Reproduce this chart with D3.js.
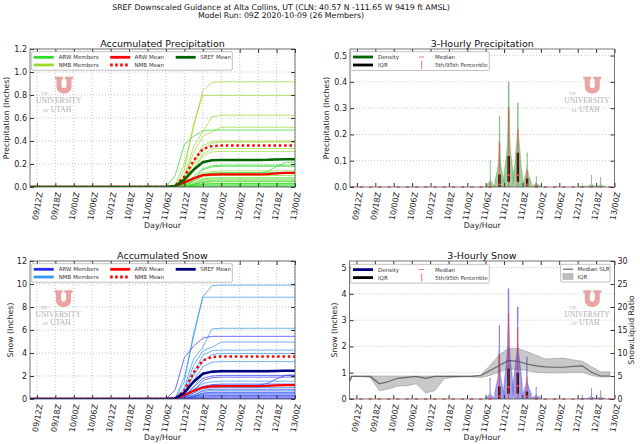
<!DOCTYPE html>
<html>
<head>
<meta charset="utf-8">
<script src="https://cdn.jsdelivr.net/npm/d3@7"></script>
<style>
body { margin: 0; background: #fff; }
svg { font-family: "DejaVu Sans", sans-serif; }
</style>
</head>
<body>
<div id="chart"></div>
<script>
// hours after 09/09Z 2020-10-09
var accHours = [0,3,6,9,12,15,18,21,24,27,30,33,36,39,42,45,48,51,54,57,60,63,66,69,72,75,78,81,84,87];
// centres of the 3-hour periods
var periodHours = [1.5,4.5,7.5,10.5,13.5,16.5,19.5,22.5,25.5,28.5,31.5,34.5,37.5,40.5,43.5,46.5,49.5,52.5,55.5,58.5,61.5,64.5,67.5,70.5,73.5,76.5,79.5,82.5,85.5];
var tickHours = [3,9,15,21,27,33,39,45,51,57,63,69,75,81,87];
var tickLabels = ["09/12Z","09/18Z","10/00Z","10/06Z","10/12Z","10/18Z","11/00Z","11/06Z","11/12Z","11/18Z","12/00Z","12/06Z","12/12Z","12/18Z","13/00Z"];

// accumulated precipitation (in), ARW members
var arwPrecip = [
  [0,0,0,0,0,0,0,0,0,0,0,0,0,0,0, 0,.10,.37,.44,.49,.495,.495,.495,.495,.495,.495,.495,.495,.495,.495],
  [0,0,0,0,0,0,0,0,0,0,0,0,0,0,0, 0,0,.03,.08,.11,.12,.12,.12,.12,.12,.12,.133,.178,.215,.215],
  [0,0,0,0,0,0,0,0,0,0,0,0,0,0,0, 0,0,.02,.09,.16,.185,.19,.19,.19,.19,.19,.19,.19,.19,.19],
  [0,0,0,0,0,0,0,0,0,0,0,0,0,0,0, 0,0,.01,.06,.15,.175,.18,.18,.18,.18,.18,.18,.18,.18,.18],
  [0,0,0,0,0,0,0,0,0,0,0,0,0,0,0, 0,0,.01,.05,.10,.12,.125,.125,.125,.125,.125,.125,.125,.125,.125],
  [0,0,0,0,0,0,0,0,0,0,0,0,0,0,0, 0,0,0,.03,.07,.08,.08,.08,.08,.08,.08,.08,.08,.08,.08],
  [0,0,0,0,0,0,0,0,0,0,0,0,0,0,0, 0,0,0,.02,.05,.06,.06,.06,.06,.06,.06,.06,.06,.06,.06],
  [0,0,0,0,0,0,0,0,0,0,0,0,0,0,0, 0,0,0,.02,.04,.045,.045,.045,.045,.045,.045,.045,.045,.045,.045],
  [0,0,0,0,0,0,0,0,0,0,0,0,0,0,0, 0,0,0,.01,.025,.03,.03,.03,.03,.03,.03,.03,.03,.03,.03],
  [0,0,0,0,0,0,0,0,0,0,0,0,0,0,0, 0,0,0,.01,.02,.02,.02,.02,.02,.02,.02,.02,.02,.02,.02],
  [0,0,0,0,0,0,0,0,0,0,0,0,0,0,0, 0,0,0,.005,.01,.01,.01,.01,.01,.01,.01,.01,.01,.01,.01],
  [0,0,0,0,0,0,0,0,0,0,0,0,0,0,0, 0,0,0,0,.005,.005,.005,.005,.005,.005,.005,.005,.005,.005,.005],
  [0,0,0,0,0,0,0,0,0,0,0,0,0,0,0, 0,0,0,0,0,0,0,0,0,0,0,0,0,0,0]
];
// accumulated precipitation (in), NMB members
var nmbPrecip = [
  [0,0,0,0,0,0,0,0,0,0,0,0,0,0,0, 0,.02,.20,.52,.84,.91,.915,.915,.915,.915,.915,.915,.915,.915,.915],
  [0,0,0,0,0,0,0,0,0,0,0,0,0,0,0, 0,.01,.15,.55,.795,.795,.795,.795,.795,.795,.795,.795,.795,.795,.795],
  [0,0,0,0,0,0,0,0,0,0,0,0,0,0,0, 0,0,.10,.35,.48,.61,.625,.625,.625,.625,.625,.625,.625,.625,.625],
  [0,0,0,0,0,0,0,0,0,0,0,0,0,0,0, 0,0,.08,.30,.44,.48,.52,.52,.52,.52,.52,.52,.52,.52,.52],
  [0,0,0,0,0,0,0,0,0,0,0,0,0,0,0, 0,0,.05,.22,.36,.395,.40,.40,.40,.40,.40,.40,.40,.40,.40],
  [0,0,0,0,0,0,0,0,0,0,0,0,0,0,0, 0,0,.06,.20,.33,.38,.39,.39,.39,.39,.39,.39,.39,.39,.39],
  [0,0,0,0,0,0,0,0,0,0,0,0,0,0,0, 0,0,.04,.16,.29,.33,.335,.335,.335,.335,.335,.335,.335,.335,.335],
  [0,0,0,0,0,0,0,0,0,0,0,0,0,0,0, 0,0,.03,.14,.27,.305,.31,.31,.31,.31,.31,.31,.31,.31,.31],
  [0,0,0,0,0,0,0,0,0,0,0,0,0,0,0, 0,0,.02,.07,.12,.135,.14,.14,.14,.14,.14,.14,.14,.14,.14],
  [0,0,0,0,0,0,0,0,0,0,0,0,0,0,0, 0,0,.01,.05,.09,.10,.10,.10,.10,.10,.10,.10,.10,.10,.10],
  [0,0,0,0,0,0,0,0,0,0,0,0,0,0,0, 0,0,.01,.03,.06,.07,.07,.07,.07,.07,.07,.07,.07,.07,.07],
  [0,0,0,0,0,0,0,0,0,0,0,0,0,0,0, 0,0,0,.02,.04,.05,.05,.05,.05,.05,.05,.05,.05,.05,.05],
  [0,0,0,0,0,0,0,0,0,0,0,0,0,0,0, 0,0,0,.01,.025,.03,.03,.03,.03,.03,.03,.03,.03,.03,.03]
];
var arwMeanPrecip  = [0,0,0,0,0,0,0,0,0,0,0,0,0,0,0, 0,.008,.04,.075,.103,.108,.11,.11,.11,.11,.11,.112,.118,.123,.123];
var nmbMeanPrecip  = [0,0,0,0,0,0,0,0,0,0,0,0,0,0,0, 0,.01,.09,.23,.33,.355,.36,.36,.36,.36,.36,.36,.36,.36,.36];
var srefMeanPrecip = [0,0,0,0,0,0,0,0,0,0,0,0,0,0,0, 0,.009,.065,.15,.215,.232,.235,.235,.235,.235,.235,.236,.239,.242,.242];

// accumulated snow (in), ARW members
var arwSnow = [
  [0,0,0,0,0,0,0,0,0,0,0,0,0,0,0, 0,.8,3.6,4.6,5.3,5.45,5.45,5.45,5.45,5.45,5.45,5.45,5.45,5.45,5.45],
  [0,0,0,0,0,0,0,0,0,0,0,0,0,0,0, 0,0,.3,.8,1.1,1.2,1.2,1.2,1.2,1.2,1.2,1.35,1.75,2.07,2.07],
  [0,0,0,0,0,0,0,0,0,0,0,0,0,0,0, 0,0,.2,1.0,1.8,2.0,2.05,2.05,2.05,2.05,2.05,2.05,2.05,2.05,2.05],
  [0,0,0,0,0,0,0,0,0,0,0,0,0,0,0, 0,0,.1,.7,1.6,1.85,1.9,1.9,1.9,1.9,1.9,1.9,1.9,1.9,1.9],
  [0,0,0,0,0,0,0,0,0,0,0,0,0,0,0, 0,0,.1,.5,1.05,1.25,1.3,1.3,1.3,1.3,1.3,1.3,1.3,1.3,1.3],
  [0,0,0,0,0,0,0,0,0,0,0,0,0,0,0, 0,0,0,.3,.75,.85,.85,.85,.85,.85,.85,.85,.85,.85,.85],
  [0,0,0,0,0,0,0,0,0,0,0,0,0,0,0, 0,0,0,.2,.5,.6,.6,.6,.6,.6,.6,.6,.6,.6,.6],
  [0,0,0,0,0,0,0,0,0,0,0,0,0,0,0, 0,0,0,.2,.4,.45,.45,.45,.45,.45,.45,.45,.45,.45,.45],
  [0,0,0,0,0,0,0,0,0,0,0,0,0,0,0, 0,0,0,.1,.25,.3,.3,.3,.3,.3,.3,.3,.3,.3,.3],
  [0,0,0,0,0,0,0,0,0,0,0,0,0,0,0, 0,0,0,.05,.15,.2,.2,.2,.2,.2,.2,.2,.2,.2,.2],
  [0,0,0,0,0,0,0,0,0,0,0,0,0,0,0, 0,0,0,.03,.08,.1,.1,.1,.1,.1,.1,.1,.1,.1,.1],
  [0,0,0,0,0,0,0,0,0,0,0,0,0,0,0, 0,0,0,0,.04,.05,.05,.05,.05,.05,.05,.05,.05,.05,.05],
  [0,0,0,0,0,0,0,0,0,0,0,0,0,0,0, 0,0,0,0,0,0,0,0,0,0,0,0,0,0,0]
];
// accumulated snow (in), NMB members
var nmbSnow = [
  [0,0,0,0,0,0,0,0,0,0,0,0,0,0,0, 0,.1,1.9,5.4,8.9,9.85,9.9,9.9,9.9,9.9,9.9,9.9,9.9,9.9,9.9],
  [0,0,0,0,0,0,0,0,0,0,0,0,0,0,0, 0,.05,1.5,5.7,8.85,8.85,8.85,8.85,8.85,8.85,8.85,8.85,8.85,8.85,8.85],
  [0,0,0,0,0,0,0,0,0,0,0,0,0,0,0, 0,0,1.0,3.5,4.5,6.1,6.15,6.15,6.15,6.15,6.15,6.15,6.15,6.15,6.15],
  [0,0,0,0,0,0,0,0,0,0,0,0,0,0,0, 0,0,.8,2.9,4.2,4.5,4.95,4.95,4.95,4.95,4.95,4.95,4.95,4.95,4.95],
  [0,0,0,0,0,0,0,0,0,0,0,0,0,0,0, 0,0,.5,2.3,3.8,4.2,4.25,4.25,4.25,4.25,4.25,4.25,4.25,4.25,4.25],
  [0,0,0,0,0,0,0,0,0,0,0,0,0,0,0, 0,0,.6,2.0,3.3,3.85,3.95,3.95,3.95,3.95,3.95,3.95,3.95,3.95,3.95],
  [0,0,0,0,0,0,0,0,0,0,0,0,0,0,0, 0,0,.4,1.6,2.8,3.2,3.25,3.25,3.25,3.25,3.25,3.25,3.25,3.25,3.25],
  [0,0,0,0,0,0,0,0,0,0,0,0,0,0,0, 0,0,.3,1.1,2.1,2.45,2.5,2.5,2.5,2.5,2.5,2.5,2.5,2.5,2.5],
  [0,0,0,0,0,0,0,0,0,0,0,0,0,0,0, 0,0,.2,.8,1.35,1.5,1.55,1.55,1.55,1.55,1.55,1.55,1.55,1.55,1.55],
  [0,0,0,0,0,0,0,0,0,0,0,0,0,0,0, 0,0,.1,.5,.9,1.0,1.0,1.0,1.0,1.0,1.0,1.0,1.0,1.0,1.0],
  [0,0,0,0,0,0,0,0,0,0,0,0,0,0,0, 0,0,.1,.35,.65,.75,.75,.75,.75,.75,.75,.75,.75,.75,.75],
  [0,0,0,0,0,0,0,0,0,0,0,0,0,0,0, 0,0,0,.25,.5,.55,.55,.55,.55,.55,.55,.55,.55,.55,.55],
  [0,0,0,0,0,0,0,0,0,0,0,0,0,0,0, 0,0,0,.15,.3,.35,.35,.35,.35,.35,.35,.35,.35,.35,.35]
];
var arwMeanSnow  = [0,0,0,0,0,0,0,0,0,0,0,0,0,0,0, 0,.06,.35,.7,1.0,1.1,1.12,1.12,1.12,1.12,1.12,1.14,1.18,1.2,1.2];
var nmbMeanSnow  = [0,0,0,0,0,0,0,0,0,0,0,0,0,0,0, 0,.01,.75,2.3,3.35,3.65,3.7,3.7,3.7,3.7,3.7,3.7,3.7,3.7,3.7];
var srefMeanSnow = [0,0,0,0,0,0,0,0,0,0,0,0,0,0,0, 0,.04,.55,1.5,2.2,2.38,2.41,2.41,2.41,2.41,2.41,2.42,2.44,2.45,2.45];

// snow:liquid ratio, median and interquartile range
var slrHours  = [0,1.5,4.5,7.5,10.5,13.5,16.5,19.5,22.5,25.5,28.5,31.5,34.5,37.5,40.5,43.5,46.5,49.5,52.5,55.5,58.5,61.5,64.5,67.5,70.5,73.5,76.5,79.5,82.5,85.5];
var slrMedian = [2.7,4.9,4.9,4.9,3.3,3.8,4.5,4.7,4.9,4.5,4.9,4.9,4.9,4.9,4.9,5.1,6.2,7.3,8.4,8.2,7.6,7.2,7.0,6.9,6.9,7.1,7.2,5.8,5.0,5.0];
var slrUpper  = [4.9,5.0,5.0,5.0,5.0,5.0,5.0,5.0,5.0,5.0,5.0,5.0,5.0,5.0,5.0,5.2,7.3,9.6,11.0,11.0,10.3,9.5,8.7,8.8,8.9,8.5,8.2,7.0,5.9,5.9];
var slrLower  = [2.7,4.9,4.9,4.7,1.8,2.2,2.8,2.9,3.3,1.3,1.8,4.4,4.7,4.8,4.8,4.7,5.1,5.9,6.5,6.4,6.2,5.8,5.7,5.7,5.7,5.8,5.8,5.1,4.8,4.8];

var svg = d3.select("#chart").append("svg")
    .attr("width", 640)
    .attr("height", 444);

var defs = svg.append("defs");
var dots = defs.append("pattern")
    .attr("id", "dots")
    .attr("width", 2)
    .attr("height", 2)
    .attr("patternUnits", "userSpaceOnUse");
dots.append("rect").attr("width", 2).attr("height", 2).attr("fill", "#c6c6c6");
dots.append("circle").attr("cx", 1).attr("cy", 1).attr("r", 0.45).attr("fill", "#8a8a8a");

svg.append("text")
    .attr("x", 281).attr("y", 9.8)
    .attr("text-anchor", "middle")
    .attr("font-size", 7.8)
    .attr("fill", "#111")
    .text("SREF Downscaled Guidance at Alta Collins, UT (CLN: 40.57 N -111.65 W 9419 ft AMSL)");
svg.append("text")
    .attr("x", 281).attr("y", 18)
    .attr("text-anchor", "middle")
    .attr("font-size", 7.8)
    .attr("fill", "#111")
    .text("Model Run: 09Z 2020-10-09 (26 Members)");

var clipCount = 0;

function panel(box, yDomain, yTicks, yFormat, vGrid, title, yLabel) {
    var x = d3.scaleLinear().domain([0.75, 87]).range([box.x0, box.x1]),
        y = d3.scaleLinear().domain(yDomain).range([box.y1, box.y0]);
    var g = svg.append("g");
    var id = "clip" + (clipCount++);
    defs.append("clipPath").attr("id", id).append("rect")
        .attr("x", box.x0).attr("y", box.y0)
        .attr("width", box.x1 - box.x0).attr("height", box.y1 - box.y0);

    var grid = g.append("g")
        .attr("stroke", "#a0a0a0")
        .attr("stroke-width", 0.6)
        .attr("stroke-dasharray", "1,2");
    if (vGrid) {
        grid.selectAll(null).data(tickHours).enter().append("line")
            .attr("x1", x).attr("x2", x)
            .attr("y1", box.y0).attr("y2", box.y1);
    }
    grid.selectAll(null).data(yTicks.slice(1)).enter().append("line")
        .attr("x1", box.x0).attr("x2", box.x1)
        .attr("y1", y).attr("y2", y);

    var plot = g.append("g").attr("clip-path", "url(#" + id + ")");
    var over = g.append("g");

    var ax = g.append("g").attr("color", "#333");
    var bottom = ax.append("g")
        .attr("transform", "translate(0," + box.y1 + ")")
        .call(d3.axisBottom(x).tickValues(tickHours).tickSize(-4).tickSizeOuter(0)
            .tickFormat(function (d, i) { return tickLabels[i]; }));
    bottom.selectAll("text")
        .attr("x", 0).attr("y", 0).attr("dy", "0.35em")
        .attr("text-anchor", "end")
        .attr("transform", "translate(2.5,5) rotate(-80)");
    ax.append("g")
        .attr("transform", "translate(0," + box.y0 + ")")
        .call(d3.axisTop(x).tickValues(tickHours).tickSize(-4).tickSizeOuter(0).tickFormat(""));
    ax.append("g")
        .attr("transform", "translate(" + box.x0 + ",0)")
        .call(d3.axisLeft(y).tickValues(yTicks).tickSize(-4).tickSizeOuter(0).tickPadding(3).tickFormat(yFormat));
    ax.selectAll(".domain").remove();
    ax.selectAll("text").attr("font-size", 8).attr("font-family", "DejaVu Sans").attr("fill", "#222");
    ax.attr("font-size", null).attr("font-family", null);

    ax.append("rect")
        .attr("x", box.x0).attr("y", box.y0)
        .attr("width", box.x1 - box.x0).attr("height", box.y1 - box.y0)
        .attr("fill", "none").attr("stroke", "#555").attr("stroke-width", 0.8);

    g.append("text")
        .attr("x", (box.x0 + box.x1) / 2).attr("y", box.y0 - 2.5)
        .attr("text-anchor", "middle")
        .attr("font-size", 9.5)
        .attr("fill", "#111")
        .text(title);
    g.append("text")
        .attr("x", (box.x0 + box.x1) / 2).attr("y", box.y1 + 40.5)
        .attr("text-anchor", "middle")
        .attr("font-size", 7.8)
        .attr("fill", "#222")
        .text("Day/Hour");
    g.append("text")
        .attr("transform", "translate(" + box.yLabelX + "," + (box.y0 + box.y1) / 2 + ") rotate(-90)")
        .attr("text-anchor", "middle")
        .attr("dy", "0.35em")
        .attr("font-size", 7.8)
        .attr("fill", "#222")
        .text(yLabel);

    return {x: x, y: y, g: g, plot: plot, over: over, ax: ax, box: box};
}

function rightTicks(p) {
    p.ax.append("g")
        .attr("transform", "translate(" + p.box.x1 + ",0)")
        .call(d3.axisRight(p.y).tickValues(p.y.ticks(6)).tickSize(-4).tickSizeOuter(0).tickFormat(""))
        .select(".domain").remove();
}

function drawLines(p, series, color, width, opacity, dash) {
    var line = d3.line()
        .x(function (d, i) { return p.x(accHours[i]); })
        .y(function (d) { return p.y(d); });
    p.plot.selectAll(null).data(series).enter().append("path")
        .attr("d", line)
        .attr("fill", "none")
        .attr("stroke", color)
        .attr("stroke-width", width)
        .attr("stroke-opacity", opacity)
        .attr("stroke-dasharray", dash || null);
}

// per-period increments of every member, with their quantiles
function periodStats(members) {
    return periodHours.map(function (h, k) {
        var v = members.map(function (m) {
            return Math.max(0, Math.round((m[k + 1] - m[k]) * 1e6) / 1e6);
        }).sort(d3.ascending);
        return {
            h: h, v: v,
            q05: d3.quantile(v, 0.05), q25: d3.quantile(v, 0.25),
            q50: d3.quantile(v, 0.5), q75: d3.quantile(v, 0.75),
            q95: d3.quantile(v, 0.95)
        };
    });
}

// gaussian kernel density, Scott bandwidth, between min and max
function kde(v) {
    var n = v.length, sd = d3.deviation(v);
    if (!sd) return null;
    var bw = sd * Math.pow(n, -0.2),
        lo = v[0], hi = v[n - 1];
    return d3.range(101).map(function (i) {
        var p = lo + (hi - lo) * i / 100;
        return {y: p, d: d3.sum(v, function (x) { return Math.exp(-0.5 * Math.pow((p - x) / bw, 2)); })};
    });
}

function drawViolins(p, stats, color) {
    var hw = (p.x(3) - p.x(0)) / 2;
    stats.forEach(function (s) {
        var cx = p.x(s.h);
        var shape = kde(s.v);
        if (shape) {
            var maxD = d3.max(shape, function (d) { return d.d; });
            p.plot.append("path").datum(shape)
                .attr("d", d3.area()
                    .y(function (d) { return p.y(d.y); })
                    .x0(function (d) { return cx - d.d / maxD * hw; })
                    .x1(function (d) { return cx + d.d / maxD * hw; }))
                .attr("fill", color).attr("fill-opacity", 0.42)
                .attr("stroke", color).attr("stroke-opacity", 0.55).attr("stroke-width", 0.5);
            p.plot.append("line")
                .attr("x1", cx).attr("x2", cx)
                .attr("y1", p.y(s.q25)).attr("y2", p.y(s.q75))
                .attr("stroke", "#000").attr("stroke-width", 2.4);
            p.plot.append("line")
                .attr("x1", cx).attr("x2", cx)
                .attr("y1", p.y(s.q05)).attr("y2", p.y(s.q95))
                .attr("stroke", "#ff2a2a").attr("stroke-opacity", 0.6).attr("stroke-width", 1.3);
        }
        p.over.append("line")
            .attr("x1", cx - 1.6).attr("x2", cx + 1.6)
            .attr("y1", p.y(s.q50)).attr("y2", p.y(s.q50))
            .attr("stroke", "#ff4d4d").attr("stroke-width", 1.4);
    });
}

function legendBox(x, y, w, h) {
    svg.append("rect")
        .attr("x", x).attr("y", y).attr("width", w).attr("height", h)
        .attr("rx", 1)
        .attr("fill", "#fff").attr("stroke", "#999").attr("stroke-width", 0.6);
}
function legendLine(x, y, len, color, width, dash) {
    svg.append("line")
        .attr("x1", x).attr("x2", x + len).attr("y1", y).attr("y2", y)
        .attr("stroke", color).attr("stroke-width", width)
        .attr("stroke-dasharray", dash || null);
}
function legendText(x, y, label) {
    svg.append("text")
        .attr("x", x).attr("y", y).attr("dy", "0.35em")
        .attr("font-size", 5.5).attr("fill", "#333")
        .text(label);
}

function accLegend(x, y, cArw, cNmb, cSref) {
    legendBox(x, y, 200.6, 18.5);
    var r1 = y + 5.6, r2 = y + 13.3;
    legendLine(x + 2, r1, 20, cArw, 2.8); legendText(x + 27, r1, "ARW Members");
    legendLine(x + 2, r2, 20, cNmb, 2.8); legendText(x + 27, r2, "NMB Members");
    legendLine(x + 78.5, r1, 20, "#ff0000", 2.8); legendText(x + 102.8, r1, "ARW Mean");
    legendLine(x + 78.5, r2, 20, "#ff0000", 2.8, "2.5,2.5"); legendText(x + 102.8, r2, "NMB Mean");
    legendLine(x + 144, r1, 20, cSref, 2.8); legendText(x + 168.5, r1, "SREF Mean");
}

function violinLegend(x, y, cDensity) {
    legendBox(x, y, 138.6, 18.8);
    var r1 = y + 5.3, r2 = y + 13.3;
    legendLine(x + 2.3, r1, 20, cDensity, 2.8); legendText(x + 27.3, r1, "Density");
    legendLine(x + 2.3, r2, 20, "#000", 2.8); legendText(x + 27.3, r2, "IQR");
    legendLine(x + 68.5, r1, 5, "#f07070", 1); legendText(x + 84.3, r1, "Median");
    svg.append("line")
        .attr("x1", x + 71).attr("x2", x + 71).attr("y1", r2 - 4).attr("y2", r2 + 4)
        .attr("stroke", "#f07070").attr("stroke-width", 1);
    legendText(x + 84.3, r2, "5th/95th Percentile");
}

function logo(px, py) {
    var g = svg.append("g").attr("transform", "translate(" + px + "," + py + ")");
    g.append("path")
        .attr("d", "M0,0H8V2.5H6.5V9C6.5,12.2 11.5,12.2 11.5,9V2.5H10V0H18V2.5H16.5V10C16.5,19 1.5,19 1.5,10V2.5H0Z")
        .attr("fill", "#eaa3a3");
    var serif = "Liberation Serif";
    g.append("text").attr("x", -14).attr("y", 18.3).attr("font-family", serif)
        .attr("font-size", 3.6).attr("fill", "#b0b0b0").text("THE");
    g.append("text").attr("x", 3.7).attr("y", 26.6).attr("text-anchor", "middle").attr("font-family", serif)
        .attr("font-size", 7.6).attr("fill", "#b0b0b0").text("UNIVERSITY");
    g.append("text").attr("x", -11.7).attr("y", 35).attr("font-family", serif)
        .attr("font-size", 4.2).attr("fill", "#b0b0b0").text("OF");
    g.append("text").attr("x", -4.3).attr("y", 35).attr("font-family", serif)
        .attr("font-size", 7.6).attr("fill", "#b0b0b0").text("UTAH");
}

var f1 = d3.format(".1f"), f0 = d3.format("d");

// ---- accumulated precipitation ----
var tl = panel({x0: 30, x1: 295, y0: 49, y1: 187, yLabelX: 6.7},
    [0, 1.2], [0, 0.2, 0.4, 0.6, 0.8, 1.0, 1.2], f1, true,
    "Accumulated Precipitation", "Precipitation (Inches)");
rightTicks(tl);
drawLines(tl, nmbPrecip, "#9cd82e", 0.8, 0.9);
drawLines(tl, arwPrecip, "#2bdc2b", 0.8, 0.9);
drawLines(tl, [arwMeanPrecip], "#ff0000", 2.3, 1);
drawLines(tl, [nmbMeanPrecip], "#ff0000", 2.5, 1, "2.5,2.8");
drawLines(tl, [srefMeanPrecip], "#006400", 2.5, 1);
accLegend(31.7, 51.7, "#2bdc2b", "#9cd82e", "#006400");
logo(55, 76.7);

// ---- 3-hourly precipitation ----
var tr = panel({x0: 350, x1: 614.5, y0: 49, y1: 187, yLabelX: 326.7},
    [0, 0.525], [0, 0.1, 0.2, 0.3, 0.4, 0.5], f1, false,
    "3-Hourly Precipitation", "Precipitation (Inches)");
rightTicks(tr);
drawViolins(tr, periodStats(arwPrecip.concat(nmbPrecip)), "#1a8a1a");
violinLegend(350.7, 51.7, "#006400");
logo(583.3, 76.7);

// ---- accumulated snow ----
var bl = panel({x0: 30, x1: 295, y0: 261, y1: 399, yLabelX: 10},
    [0, 12], [0, 2, 4, 6, 8, 10, 12], f0, true,
    "Accumulated Snow", "Snow (Inches)");
rightTicks(bl);
drawLines(bl, nmbSnow, "#3696ee", 0.8, 0.9);
drawLines(bl, arwSnow, "#3a3af0", 0.8, 0.9);
drawLines(bl, [arwMeanSnow], "#ff0000", 2.3, 1);
drawLines(bl, [nmbMeanSnow], "#ff0000", 2.5, 1, "2.5,2.8");
drawLines(bl, [srefMeanSnow], "#00007f", 2.5, 1);
accLegend(31.7, 263.7, "#2a2af0", "#3696ee", "#00007f");
logo(54.5, 290.3);

// ---- 3-hourly snow ----
var br = panel({x0: 349.5, x1: 614.5, y0: 261, y1: 399, yLabelX: 334},
    [0, 5.25], [0, 1, 2, 3, 4, 5], f0, false,
    "3-Hourly Snow", "Snow (Inches)");
var yR = d3.scaleLinear().domain([0, 30]).range([399, 261]);
var slrIdx = d3.range(slrHours.length);
br.plot.append("path").datum(slrIdx)
    .attr("d", d3.area()
        .x(function (i) { return br.x(slrHours[i]); })
        .y0(function (i) { return yR(slrLower[i]); })
        .y1(function (i) { return yR(slrUpper[i]); }))
    .attr("fill", "url(#dots)").attr("fill-opacity", 0.85)
    .attr("stroke", "#8a8a8a").attr("stroke-width", 0.5);
br.plot.append("path").datum(slrIdx)
    .attr("d", d3.line()
        .x(function (i) { return br.x(slrHours[i]); })
        .y(function (i) { return yR(slrMedian[i]); }))
    .attr("fill", "none").attr("stroke", "#666").attr("stroke-width", 1.2);
drawViolins(br, periodStats(arwSnow.concat(nmbSnow)), "#1e1ecc");
var rAx = br.ax.append("g")
    .attr("transform", "translate(614.5,0)")
    .call(d3.axisRight(yR).tickValues([0, 5, 10, 15, 20, 25, 30]).tickSize(-4).tickSizeOuter(0).tickPadding(3));
rAx.select(".domain").remove();
rAx.attr("font-size", null).attr("font-family", null);
rAx.selectAll("text").attr("font-size", 8).attr("fill", "#222");
br.g.append("text")
    .attr("transform", "translate(631.7,330) rotate(-90)")
    .attr("text-anchor", "middle").attr("dy", "0.35em")
    .attr("font-size", 7.8).attr("fill", "#222")
    .text("Snow:Liquid Ratio");
violinLegend(350.7, 264.3, "#00007f");
legendBox(560.7, 264.3, 49.3, 17.7);
legendLine(563, 269.2, 10, "#666", 1.2);
legendText(577.5, 269.2, "Median SLR");
svg.append("rect")
    .attr("x", 563).attr("y", 273.8).attr("width", 10).attr("height", 5.4)
    .attr("fill", "url(#dots)").attr("stroke", "#8a8a8a").attr("stroke-width", 0.5);
legendText(577.5, 276.6, "IQR");
logo(583.3, 290.3);
</script>
</body>
</html>
